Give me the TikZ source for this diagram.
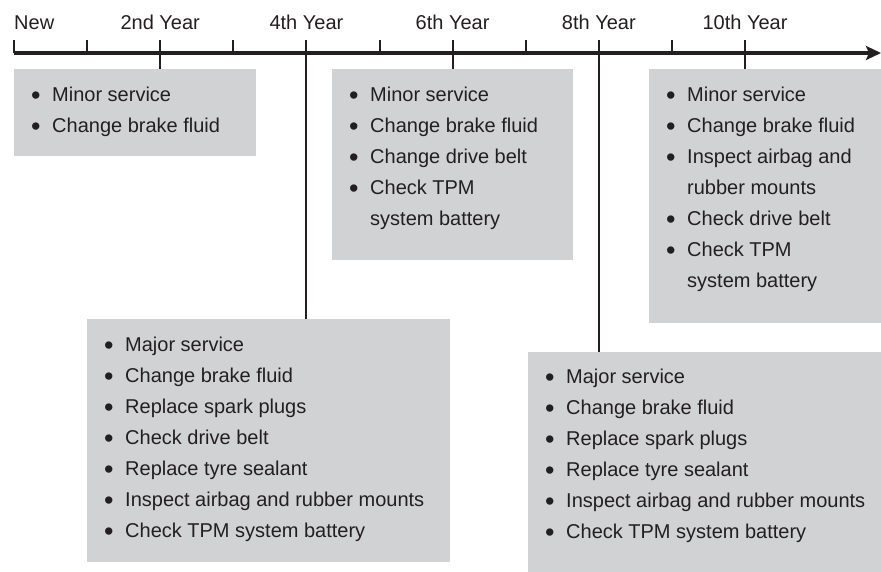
\documentclass[tikz,border=0pt]{standalone}
\usepackage{fontspec}
\setmainfont{Liberation Sans}
\usetikzlibrary{arrows.meta}

\definecolor{boxgray}{RGB}{209,210,212}
\definecolor{ink}{RGB}{35,31,32}

\newcommand{\itm}[1]{\strut\makebox[21pt][l]{\raisebox{-2.6pt}{\scalebox{1.35}{\textbullet}}}#1}
\newcommand{\cont}[1]{\strut\hspace*{21pt}#1}

\tikzset{
  axis/.style={ink, line width=4.5pt, -{Stealth[length=15pt,width=14pt,inset=3pt]}},
  tick/.style={ink, line width=2pt},
  yearlbl/.style={ink, anchor=base, inner sep=0pt},
  infobox/.style={fill=boxgray, draw=none, anchor=north west, inner sep=0pt},
  itemlist/.style={ink, anchor=north west, inner sep=0pt, align=left}
}

\begin{document}
\begin{tikzpicture}[x=1pt, y=-1pt, font=\fontsize{20}{31}\selectfont]
            \useasboundingbox (0,0) rectangle (881,572);

            % boxes
            \node[infobox, minimum width=242pt, minimum height=87pt]  (box2)  at (14,69)  {};
            \node[infobox, minimum width=241pt, minimum height=191pt] (box6)  at (332,69) {};
            \node[infobox, minimum width=232pt, minimum height=254pt] (box10) at (649,69) {};
            \node[infobox, minimum width=363pt, minimum height=243pt] (box4)  at (87,319) {};
            \node[infobox, minimum width=353pt, minimum height=220pt] (box8)  at (528,352) {};

            \node[itemlist] (list2) at ([xshift=17pt,yshift=-11pt]box2.north west)
                {\itm{Minor service}\\ \itm{Change brake fluid}};
            \node[itemlist] (list6) at ([xshift=17pt,yshift=-11pt]box6.north west)
                {\itm{Minor service}\\ \itm{Change brake fluid}\\ \itm{Change drive belt}\\
                 \itm{Check TPM}\\ \cont{system battery}};
            \node[itemlist] (list10) at ([xshift=17pt,yshift=-11pt]box10.north west)
                {\itm{Minor service}\\ \itm{Change brake fluid}\\ \itm{Inspect airbag and}\\
                 \cont{rubber mounts}\\ \itm{Check drive belt}\\ \itm{Check TPM}\\ \cont{system battery}};
            \node[itemlist] (list4) at ([xshift=17pt,yshift=-11pt]box4.north west)
                {\itm{Major service}\\ \itm{Change brake fluid}\\ \itm{Replace spark plugs}\\
                 \itm{Check drive belt}\\ \itm{Replace tyre sealant}\\
                 \itm{Inspect airbag and rubber mounts}\\ \itm{Check TPM system battery}};
            \node[itemlist] (list8) at ([xshift=17pt,yshift=-10pt]box8.north west)
                {\itm{Major service}\\ \itm{Change brake fluid}\\ \itm{Replace spark plugs}\\
                 \itm{Replace tyre sealant}\\ \itm{Inspect airbag and rubber mounts}\\
                 \itm{Check TPM system battery}};

            % time axis
            \foreach \i in {0,...,10}
                \coordinate (yr\i) at ({14+73.1*\i},53);
            \coordinate (axend) at (881,53);
            \draw[axis] (yr0) -- (axend);

             %ticks
                 \foreach \i in {0,...,10}
                     \draw[tick] (yr\i) -- ++(0,-13);
                 \foreach \i in {2,4,...,10}
                     \draw[tick] (yr\i) -- (yr\i |- box\i.north);

             % year labels
                 \node[yearlbl, anchor=base west] (lblNew) at (14,30) {New};
                 \foreach \i/\t in {2/2nd,4/4th,6/6th,8/8th,10/10th}
                     \node[yearlbl] (lbl\i) at (yr\i |- 0,30) {\t\ Year};
             \end{tikzpicture}
\end{document}
